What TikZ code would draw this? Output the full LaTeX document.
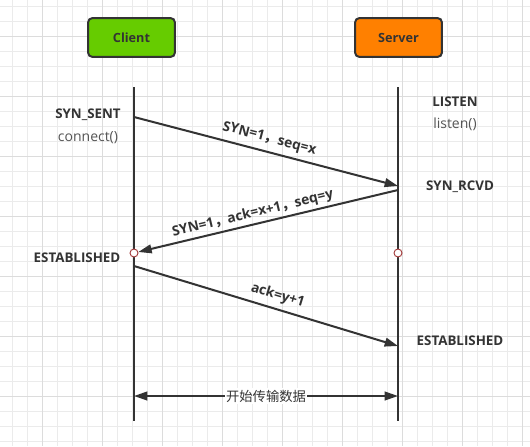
\documentclass[tikz,border=0pt]{standalone}
\usepackage{fontspec}
\setmainfont{Open Sans}
\newfontfamily\cjk{Noto Sans CJK SC}
\usetikzlibrary{arrows.meta,positioning}
\definecolor{lineGray}{HTML}{333333}
\definecolor{callGray}{HTML}{555555}
\definecolor{clientGreen}{HTML}{66CC00}
\definecolor{serverOrange}{HTML}{FF8000}
\definecolor{gridMinor}{HTML}{EBEBEB}
\definecolor{gridMajor}{HTML}{DCDCDC}
\definecolor{markRed}{HTML}{A33B3B}
\tikzset{
  seq/actor/.style={draw=lineGray, line width=1.5pt, rounded corners=3pt, minimum width=65pt, minimum height=29pt, align=center, text=lineGray, font=\bfseries\fontsize{9.5}{11}\selectfont},
  seq/life/.style={draw=lineGray, line width=1.5pt},
  seq/msg/.style={draw=lineGray, line width=1.5pt, -{Triangle[length=10pt,width=6.5pt]}},
  seq/both/.style={draw=lineGray, line width=1.5pt, {Triangle[length=10pt,width=6.5pt]}-{Triangle[length=10pt,width=6.5pt]}},
  seq/state/.style={text=lineGray, font=\bfseries\fontsize{10}{12}\selectfont},
  seq/call/.style={text=callGray, font=\fontsize{10.5}{12}\selectfont},
  seq/label/.style={text=lineGray, sloped, above, inner sep=2pt, font=\bfseries\fontsize{10.3}{12}\selectfont},
  seq/data/.style={text=lineGray, fill=white, inner sep=1pt, font=\cjk\fontsize{10}{12}\selectfont},
  seq/mark/.style={circle, draw=markRed, fill=white, line width=0.7pt, inner sep=0pt, minimum size=6pt}
}

\begin{document}
\begin{tikzpicture}[x=0.75pt, y=-0.75pt, node distance=1pt]
  \useasboundingbox (0,0) rectangle (530,446);
  \fill[white] (0,0) rectangle (530,446);
  % background grid
  \foreach \x in {12.7,27.7,...,530} \draw[gridMinor, line width=0.75pt] (\x,0) -- (\x,446);
  \foreach \y in {6.7,21.7,...,446} \draw[gridMinor, line width=0.75pt] (0,\y) -- (530,\y);
  \foreach \x in {42.7,102.7,...,530} \draw[gridMajor, line width=0.75pt] (\x,0) -- (\x,446);
  \foreach \y in {36.7,96.7,...,446} \draw[gridMajor, line width=0.75pt] (0,\y) -- (530,\y);

  % actors
  \node[seq/actor, fill=clientGreen] (client) at (131.5,37.5) {Client};
  \node[seq/actor, fill=serverOrange] (server) at (398.5,37.5) {Server};

  % lifelines
  \coordinate (cl-top) at (134,87);
  \coordinate (cl-bot) at (134,421);
  \coordinate (sv-top) at (398,87);
  \coordinate (sv-bot) at (398,421);
  \draw[seq/life] (cl-top) -- (cl-bot);
  \draw[seq/life] (sv-top) -- (sv-bot);

  % states
  \node[seq/state] (synsent) at (88,115) {SYN\_SENT};
  \node[seq/call, below=of synsent] (connect) {connect()};
  \node[seq/state] (listen) at (455,102) {LISTEN};
  \node[seq/call, below=of listen] (listencall) {listen()};
  \node[seq/state] (synrcvd) at (460,187) {SYN\_RCVD};
  \node[seq/state] (cl-est) at (77,258) {ESTABLISHED};
  \node[seq/state] (sv-est) at (460,341) {ESTABLISHED};

  % handshake
  \coordinate (cl-syn) at (134,117);
  \coordinate (sv-syn) at (398,186);
  \coordinate (sv-ack) at (398,190);
  \coordinate (cl-ack) at (134,266);
  \coordinate (sv-fin) at (398,346);
  \node[seq/mark] (cl-mark) at (134,253) {};
  \node[seq/mark] (sv-mark) at (398,253) {};

  \draw[seq/msg] (cl-syn) -- (sv-syn)
    node[seq/label, pos=0.5, yshift=2pt] {SYN=1{\cjk，}seq=x};
  \draw[seq/msg] (sv-ack) -- (cl-mark)
    node[seq/label, pos=0.55] {SYN=1{\cjk，}ack=x+1{\cjk，}seq=y};
  \draw[seq/msg] (cl-ack) -- (sv-fin)
    node[seq/label, pos=0.53, yshift=2pt] {ack=y+1};

  % data transfer
  \coordinate (cl-data) at (134,396);
  \coordinate (sv-data) at (398,396);
  \draw[seq/both] (cl-data) -- (sv-data)
    node[seq/data, midway] {开始传输数据};
\end{tikzpicture}
\end{document}
